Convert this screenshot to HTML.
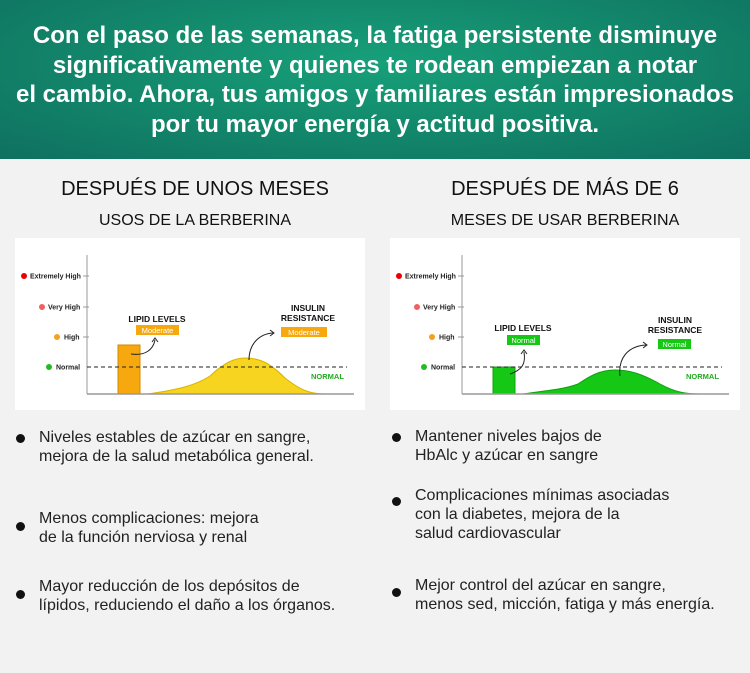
<!DOCTYPE html>
<html><head><meta charset="utf-8"><style>
*{margin:0;padding:0;box-sizing:border-box}
body{width:750px;height:673px;background:#f2f2f2;position:relative;overflow:hidden;font-family:"Liberation Sans",Arial,sans-serif}
.hdr{position:absolute;left:0;top:0;width:750px;height:159px;background:radial-gradient(ellipse at 50% 40%,#17a07a 0%,#138a6c 45%,#0f7060 100%)}
.hdr p{position:absolute;left:0;width:750px;text-align:center;color:#fff;font-weight:bold;font-size:24px;line-height:29.5px;top:21px}
.t{position:absolute;text-align:center;color:#111;white-space:nowrap}
.h1{font-size:20px;top:178px}
.h2{font-size:16px;top:212px}
.box{position:absolute;top:238px;width:350px;height:172px;background:#fff}
.b{position:absolute;font-size:16px;line-height:19px;color:#222;white-space:nowrap}
.d{position:absolute;width:9px;height:9px;border-radius:50%;background:#111}
</style></head><body>
<div class="hdr"><p>Con el paso de las semanas, la fatiga persistente disminuye<br>significativamente y quienes te rodean empiezan a notar<br>el cambio. Ahora, tus amigos y familiares están impresionados<br>por tu mayor energía y actitud positiva.</p></div>
<div class="t h1" style="left:15px;width:360px">DESPUÉS DE UNOS MESES</div>
<div class="t h2" style="left:15px;width:360px">USOS DE LA BERBERINA</div>
<div class="t h1" style="left:390px;width:350px">DESPUÉS DE MÁS DE 6</div>
<div class="t h2" style="left:390px;width:350px">MESES DE USAR BERBERINA</div>

<svg class="box" style="left:15px" viewBox="0 0 350 172" font-family="Liberation Sans,Arial,sans-serif">
<line x1="72" y1="17" x2="72" y2="156" stroke="#999" stroke-width="1"/>
<circle cx="9" cy="38" r="3" fill="#e00"/><text x="15" y="40.5" font-size="7" font-weight="bold" fill="#222">Extremely High</text><line x1="68" y1="38" x2="74" y2="38" stroke="#999"/>
<circle cx="27" cy="69" r="3" fill="#f06060"/><text x="33" y="71.5" font-size="7" font-weight="bold" fill="#222">Very High</text><line x1="68" y1="69" x2="74" y2="69" stroke="#999"/>
<circle cx="42" cy="99" r="3" fill="#f5a020"/><text x="49" y="101.5" font-size="7" font-weight="bold" fill="#222">High</text><line x1="68" y1="99" x2="74" y2="99" stroke="#999"/>
<circle cx="34" cy="129" r="3" fill="#2b2"/><text x="41" y="131.5" font-size="7" font-weight="bold" fill="#222">Normal</text>
<rect x="103" y="107" width="22" height="49" fill="#f7a80f" stroke="#d08a00"/>
<path d="M133 156 C160 152 180 148 195 138 C210 124 220 120 230 120 C245 120 255 125 270 140 C285 152 295 156 310 156 Z" fill="#f6d420" stroke="#d9b400"/>
<line x1="72" y1="129" x2="332" y2="129" stroke="#222" stroke-dasharray="4,3"/>
<line x1="72" y1="156" x2="339" y2="156" stroke="#999" stroke-width="1.5"/>
<text x="296" y="141" font-size="7.5" font-weight="bold" fill="#2a2">NORMAL</text>
<text x="142" y="84" font-size="8.5" font-weight="bold" text-anchor="middle" fill="#111">LIPID LEVELS</text>
<rect x="121" y="87" width="43" height="10" fill="#f7a80f"/><text x="142.5" y="95" font-size="7.5" fill="#fff" text-anchor="middle">Moderate</text>
<text x="293" y="73" font-size="8.5" font-weight="bold" text-anchor="middle" fill="#111">INSULIN</text>
<text x="293" y="83" font-size="8.5" font-weight="bold" text-anchor="middle" fill="#111">RESISTANCE</text>
<rect x="266" y="89" width="46" height="10" fill="#f7a80f"/><text x="289" y="97" font-size="7.5" fill="#fff" text-anchor="middle">Moderate</text>
<path d="M116 116 C130 118 138 112 140 102" fill="none" stroke="#222"/><path d="M137 104 L140 100 L143 104" fill="none" stroke="#222"/>
<path d="M234 122 C234 106 244 96 258 95" fill="none" stroke="#222"/><path d="M255 92 L259 95 L255 98" fill="none" stroke="#222"/>
</svg>

<svg class="box" style="left:390px" viewBox="0 0 350 172" font-family="Liberation Sans,Arial,sans-serif">
<line x1="72" y1="17" x2="72" y2="156" stroke="#999" stroke-width="1"/>
<circle cx="9" cy="38" r="3" fill="#e00"/><text x="15" y="40.5" font-size="7" font-weight="bold" fill="#222">Extremely High</text><line x1="68" y1="38" x2="74" y2="38" stroke="#999"/>
<circle cx="27" cy="69" r="3" fill="#f06060"/><text x="33" y="71.5" font-size="7" font-weight="bold" fill="#222">Very High</text><line x1="68" y1="69" x2="74" y2="69" stroke="#999"/>
<circle cx="42" cy="99" r="3" fill="#f5a020"/><text x="49" y="101.5" font-size="7" font-weight="bold" fill="#222">High</text><line x1="68" y1="99" x2="74" y2="99" stroke="#999"/>
<circle cx="34" cy="129" r="3" fill="#2b2"/><text x="41" y="131.5" font-size="7" font-weight="bold" fill="#222">Normal</text>
<rect x="103" y="129" width="22" height="27" fill="#16c816" stroke="#10a010"/>
<path d="M133 156 C160 152 175 151 188 146 C200 138 210 132 225 132 C240 132 252 136 270 146 C285 154 295 156 310 156 Z" fill="#16c816" stroke="#10a010"/>
<line x1="72" y1="129" x2="332" y2="129" stroke="#222" stroke-dasharray="4,3"/>
<line x1="72" y1="156" x2="339" y2="156" stroke="#999" stroke-width="1.5"/>
<text x="296" y="141" font-size="7.5" font-weight="bold" fill="#2a2">NORMAL</text>
<text x="133" y="93" font-size="8.5" font-weight="bold" text-anchor="middle" fill="#111">LIPID LEVELS</text>
<rect x="117" y="97" width="33" height="10" fill="#16c816"/><text x="133.5" y="105" font-size="7.5" fill="#fff" text-anchor="middle">Normal</text>
<text x="285" y="85" font-size="8.5" font-weight="bold" text-anchor="middle" fill="#111">INSULIN</text>
<text x="285" y="95" font-size="8.5" font-weight="bold" text-anchor="middle" fill="#111">RESISTANCE</text>
<rect x="268" y="101" width="33" height="10" fill="#16c816"/><text x="284.5" y="109" font-size="7.5" fill="#fff" text-anchor="middle">Normal</text>
<path d="M120 136 C132 132 136 126 134 114" fill="none" stroke="#222"/><path d="M131 116 L134 112 L137 116" fill="none" stroke="#222"/>
<path d="M230 138 C228 120 238 108 256 107" fill="none" stroke="#222"/><path d="M253 104 L257 107 L253 110" fill="none" stroke="#222"/>
</svg>

<div class="d" style="left:16px;top:434px"></div>
<div class="b" style="left:39px;top:428px">Niveles estables de azúcar en sangre,<br>mejora de la salud metabólica general.</div>
<div class="d" style="left:16px;top:522px"></div>
<div class="b" style="left:39px;top:509px">Menos complicaciones: mejora<br>de la función nerviosa y renal</div>
<div class="d" style="left:16px;top:590px"></div>
<div class="b" style="left:39px;top:577px">Mayor reducción de los depósitos de<br>lípidos, reduciendo el daño a los órganos.</div>

<div class="d" style="left:392px;top:433px"></div>
<div class="b" style="left:415px;top:427px">Mantener niveles bajos de<br>HbAlc y azúcar en sangre</div>
<div class="d" style="left:392px;top:497px"></div>
<div class="b" style="left:415px;top:486px">Complicaciones mínimas asociadas<br>con la diabetes, mejora de la<br>salud cardiovascular</div>
<div class="d" style="left:392px;top:588px"></div>
<div class="b" style="left:415px;top:576px">Mejor control del azúcar en sangre,<br>menos sed, micción, fatiga y más energía.</div>
</body></html>
